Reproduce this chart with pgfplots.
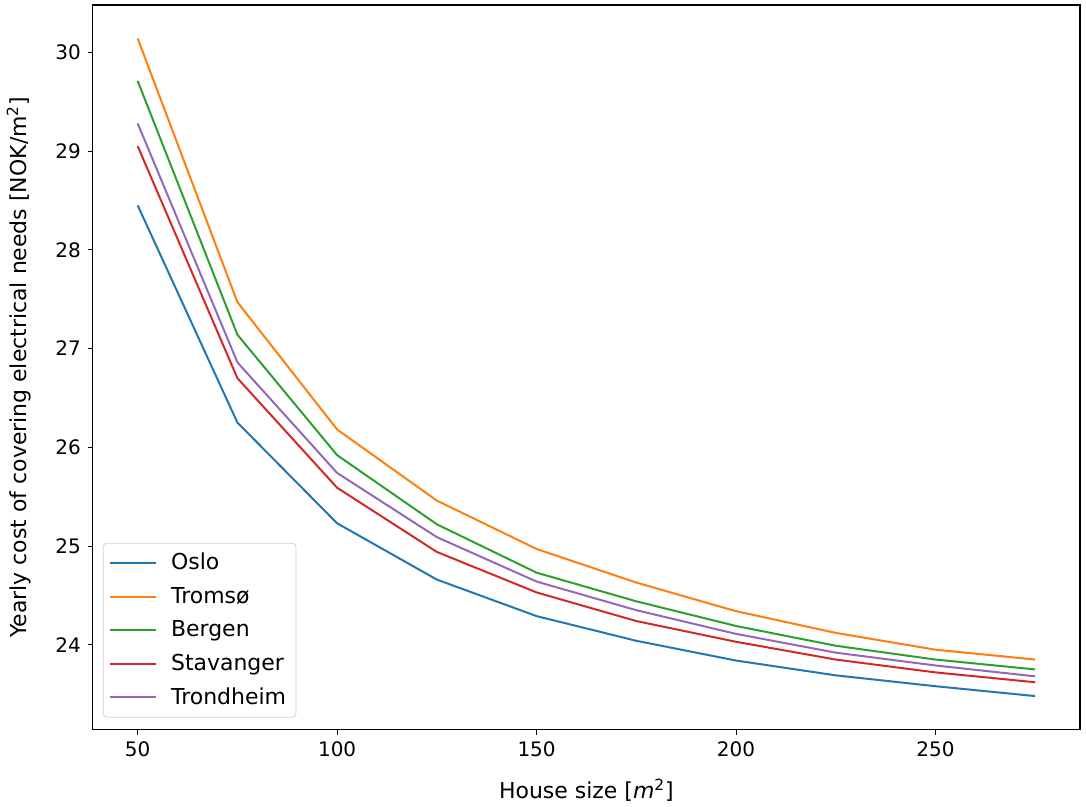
\documentclass[border=0pt]{standalone}
\usepackage{fontspec}
\setmainfont{DejaVu Sans}
\usepackage{pgfplots}
\pgfplotsset{compat=1.18}
\definecolor{c0}{HTML}{1F77B4}
\definecolor{c1}{HTML}{FF7F0E}
\definecolor{c2}{HTML}{2CA02C}
\definecolor{c3}{HTML}{D62728}
\definecolor{c4}{HTML}{9467BD}
\begin{document}
\begin{tikzpicture}
\useasboundingbox (-46.5pt,-38.5pt) rectangle (497.5pt,365.5pt);
\begin{axis}[
  scale only axis,
  width=494.5pt, height=363pt,
  xmin=38.75, xmax=286.25,
  ymin=23.14, ymax=30.48,
  xtick={50,100,150,200,250},
  ytick={24,25,26,27,28,29,30},
  tick align=outside,
  tick pos=left,
  major tick length=2.5pt,
  tick style={black, line width=0.5pt},
  axis line style={line width=0.6pt},
  /pgf/number format/assume math mode=true,
  ticklabel style={font=\fontsize{10pt}{12pt}\selectfont},
  label style={font=\fontsize{11pt}{13pt}\selectfont},
  xlabel style={yshift=-4.5pt},
  ylabel style={yshift=5.5pt},
  xlabel={House size [\textit{m}\textsuperscript{2}]},
  ylabel={Yearly cost of covering electrical needs [NOK/m\textsuperscript{2}]},
  every axis plot/.append style={line width=1pt},
  legend cell align=left,
  legend style={at={(0,0)}, anchor=south west, xshift=5pt, yshift=6pt,
    draw=black!18, rounded corners=2pt, font=\fontsize{11pt}{13pt}\selectfont,
    row sep=3.2pt, inner xsep=3pt, inner ysep=3pt},
  legend image code/.code={\draw[line width=1pt] (0pt,0pt) -- (23pt,0pt); \path (28pt,0pt);},
]
\addplot[c0] coordinates {(50,28.45) (75,26.25) (100,25.23) (125,24.66) (150,24.29) (175,24.04) (200,23.84) (225,23.69) (250,23.58) (275,23.48)};
\addlegendentry{Oslo}
\addplot[c1] coordinates {(50,30.14) (75,27.47) (100,26.18) (125,25.46) (150,24.97) (175,24.63) (200,24.34) (225,24.12) (250,23.95) (275,23.85)};
\addlegendentry{Tromsø}
\addplot[c2] coordinates {(50,29.71) (75,27.14) (100,25.92) (125,25.22) (150,24.73) (175,24.44) (200,24.19) (225,23.99) (250,23.85) (275,23.75)};
\addlegendentry{Bergen}
\addplot[c3] coordinates {(50,29.05) (75,26.70) (100,25.59) (125,24.94) (150,24.53) (175,24.24) (200,24.03) (225,23.85) (250,23.72) (275,23.62)};
\addlegendentry{Stavanger}
\addplot[c4] coordinates {(50,29.28) (75,26.86) (100,25.74) (125,25.09) (150,24.64) (175,24.35) (200,24.11) (225,23.92) (250,23.79) (275,23.68)};
\addlegendentry{Trondheim}
\end{axis}
\end{tikzpicture}
\end{document}
